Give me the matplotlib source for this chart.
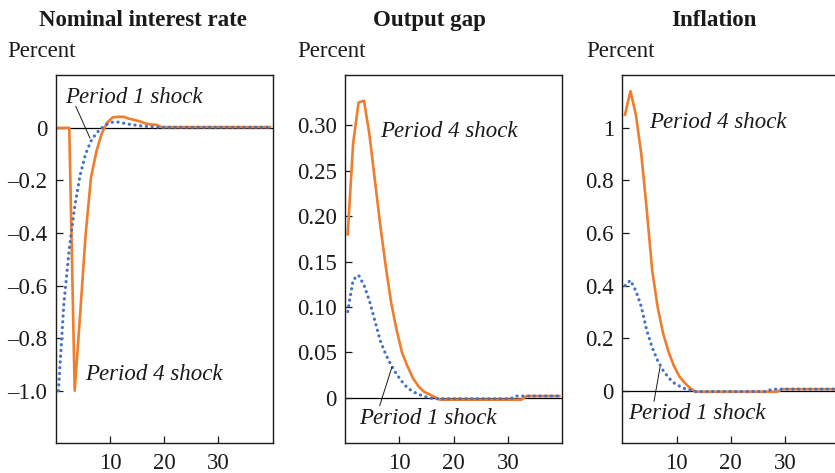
import numpy as np
import matplotlib
matplotlib.use("Agg")
import matplotlib.pyplot as plt

plt.rcParams['font.family'] = ['Liberation Serif', 'DejaVu Serif']

periods = np.arange(1, 41)

titles = ["Nominal interest rate", "Output gap", "Inflation"]

# Nominal interest rate
rate_p1 = [-1.00, -0.67, -0.46, -0.30, -0.18, -0.10, -0.05, -0.02, 0.000, 0.014,
           0.022, 0.022, 0.018, 0.014, 0.011, 0.008, 0.006, 0.004, 0.003, 0.002] + [0.002] * 20
rate_p4 = [0.0, 0.0, 0.0, -1.00, -0.71, -0.41, -0.19, -0.09, -0.02, 0.02,
           0.040, 0.042, 0.042, 0.035, 0.030, 0.025, 0.017, 0.013, 0.012, 0.003] + [0.003] * 20

# Output gap
gap_p1 = [0.095, 0.130, 0.135, 0.124, 0.107, 0.085, 0.063, 0.048, 0.036, 0.026,
          0.018, 0.011, 0.007, 0.004, 0.002, 0.000] + [-0.001] * 15 + [0.002] * 9
gap_p4 = [0.180, 0.280, 0.325, 0.327, 0.290, 0.240, 0.190, 0.145, 0.105, 0.075,
          0.050, 0.035, 0.022, 0.013, 0.007, 0.004, 0.001] + [-0.002] * 16 + [0.002] * 7

# Inflation
inf_p1 = [0.400, 0.420, 0.380, 0.320, 0.230, 0.165, 0.115, 0.078, 0.050, 0.030,
          0.018, 0.008, 0.002] + [-0.003] * 14 + [0.005] + [0.006] * 12
inf_p4 = [1.050, 1.140, 1.050, 0.900, 0.690, 0.460, 0.320, 0.220, 0.150, 0.095,
          0.055, 0.030, 0.010] + [-0.004] * 16 + [0.006] * 11

p1_series = [rate_p1, gap_p1, inf_p1]
p4_series = [rate_p4, gap_p4, inf_p4]

ylims = [(-1.2, 0.2), (-0.05, 0.355), (-0.2, 1.2)]
yticks = [[0, -0.2, -0.4, -0.6, -0.8, -1.0],
          [0, 0.05, 0.10, 0.15, 0.20, 0.25, 0.30],
          [0, 0.2, 0.4, 0.6, 0.8, 1]]
yticklabels = [["0", "\u20130.2", "\u20130.4", "\u20130.6", "\u20130.8", "\u20131.0"],
               ["0", "0.05", "0.10", "0.15", "0.20", "0.25", "0.30"],
               ["0", "0.2", "0.4", "0.6", "0.8", "1"]]
xticks = [10, 20, 30]

# annotation positions (data coords)
p1_text = [(1.7, 0.116), (2.6, -0.023), (1.1, -0.088)]
p1_arrow = [((3.7, 0.082), (6.3, -0.038)),
            ((6.4, -0.0085), (8.65, 0.034)),
            ((5.85, -0.04), (6.95, 0.089))]
p4_text = [(5.4, -0.939), (6.4, 0.293), (4.9, 1.02)]

W, H = 835, 473
fig = plt.figure(figsize=(W / 100, H / 100), dpi=100)

lefts = [55.7, 345.0, 622.3]
axw = 217.0
top, bottom = 75.3, 443.3
title_x = [142.5, 429.0, 714.2]
percent_x = [7.3, 297.3, 586.0]

orange = '#F07D2C'
blue = '#4472C4'
fs = 16.5
ink = '#1a1a1a'

for i in range(3):
    ax = fig.add_axes([lefts[i] / W, 1 - bottom / H, axw / W, (bottom - top) / H])
    x = periods - 0.5
    ax.axhline(0, color='black', lw=0.9, zorder=1)
    ax.plot(x, p1_series[i], color=blue, lw=2.3, linestyle=(0, (0.05, 1.75)),
            dash_capstyle='round', zorder=3)
    ax.plot(x, p4_series[i], color=orange, lw=1.9, zorder=2)
    ax.set_xlim(0, 40)
    ax.set_ylim(*ylims[i])
    ax.set_yticks(yticks[i])
    ax.set_yticklabels(yticklabels[i])
    ax.set_xticks(xticks)
    ax.set_xticklabels([str(t) for t in xticks])
    ax.tick_params(direction='in', length=5, width=0.9, labelsize=fs, colors=ink)
    ax.tick_params(axis='y', pad=6)
    ax.tick_params(axis='x', pad=7)
    for s in ax.spines.values():
        s.set_linewidth(1.0)
        s.set_color(ink)

    ax.text(p1_text[i][0], p1_text[i][1], "Period 1 shock", fontsize=fs, style='italic',
            va='center', ha='left', color=ink)
    ax.text(p4_text[i][0], p4_text[i][1], "Period 4 shock", fontsize=fs, style='italic',
            va='center', ha='left', color=ink)
    (ax0, ay0), (ax1, ay1) = p1_arrow[i]
    ax.plot([ax0, ax1], [ay0, ay1], color=ink, lw=0.7, zorder=4)

    fig.text(title_x[i] / W, 1 - 20.7 / H, titles[i], fontsize=fs, fontweight='bold',
             ha='center', va='center', color=ink)
    fig.text(percent_x[i] / W, 1 - 51.7 / H, "Percent", fontsize=fs,
             ha='left', va='center', color=ink)

fig.savefig("out.png", dpi=100)
